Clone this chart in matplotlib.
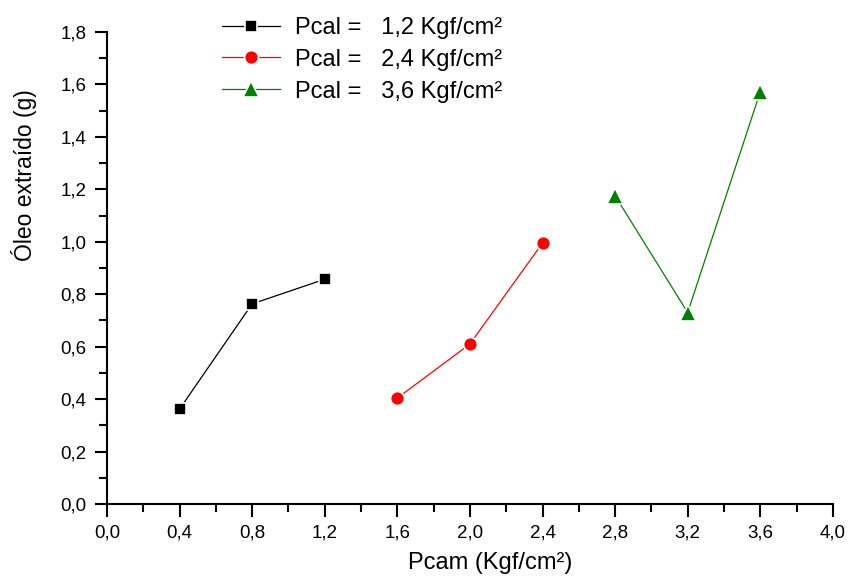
import matplotlib.pyplot as plt
from matplotlib.ticker import MultipleLocator

plt.rcParams['font.family'] = ['Liberation Sans', 'DejaVu Sans']

# Oil extracted vs chamber pressure, one series per Pcal
x_12 = [0.4, 0.8, 1.2]
y_12 = [0.362, 0.763, 0.857]
x_24 = [1.6, 2.0, 2.4]
y_24 = [0.404, 0.610, 0.995]
x_36 = [2.8, 3.2, 3.6]
y_36 = [1.175, 0.730, 1.572]
labels = ['Pcal =   1,2 Kgf/cm²', 'Pcal =   2,4 Kgf/cm²', 'Pcal =   3,6 Kgf/cm²']

fig = plt.figure(figsize=(8.49, 5.80), dpi=100)
ax = fig.add_axes([0.126, 0.131, 0.855, 0.814])

# white marker edges leave a small gap between line and marker
ax.plot(x_12, y_12, color='black', lw=0.9, marker='s', ms=9, mec='white', mew=1.2, label=labels[0])
ax.plot(x_24, y_24, color='red', lw=0.9, marker='o', ms=10, mec='white', mew=1.2, label=labels[1])
ax.plot(x_36, y_36, color='green', lw=0.9, marker='^', ms=11, mec='white', mew=1.2, label=labels[2])

ax.set_xlim(0, 4.0)
ax.set_ylim(0, 1.8)
ax.xaxis.set_major_locator(MultipleLocator(0.4))
ax.xaxis.set_minor_locator(MultipleLocator(0.2))
ax.yaxis.set_major_locator(MultipleLocator(0.2))
ax.yaxis.set_minor_locator(MultipleLocator(0.1))
fmt = lambda v, pos: f'{v:.1f}'.replace('.', ',')
ax.xaxis.set_major_formatter(fmt)
ax.yaxis.set_major_formatter(fmt)

for side in ['top', 'right']:
    ax.spines[side].set_visible(False)
for side in ['left', 'bottom']:
    ax.spines[side].set_linewidth(1.5)
ax.tick_params(which='major', direction='out', length=9, width=1.5, labelsize=13.5, pad=6)
ax.tick_params(which='minor', direction='out', length=6, width=1.5)

ax.set_xlabel('Pcam (Kgf/cm²)', fontsize=17)
ax.set_ylabel('Óleo extraído (g)', fontsize=16.5)
ax.xaxis.set_label_coords(0.5275, -0.102)
ax.yaxis.set_label_coords(-0.096, 0.697)

ax.legend(loc='upper left', bbox_to_anchor=(222 / 849, 0.971), bbox_transform=fig.transFigure,
          frameon=False, fontsize=17, borderpad=0, borderaxespad=0, handlelength=2.45,
          labelspacing=0.42, handletextpad=0.65)

fig.savefig('out.png', dpi=100)
